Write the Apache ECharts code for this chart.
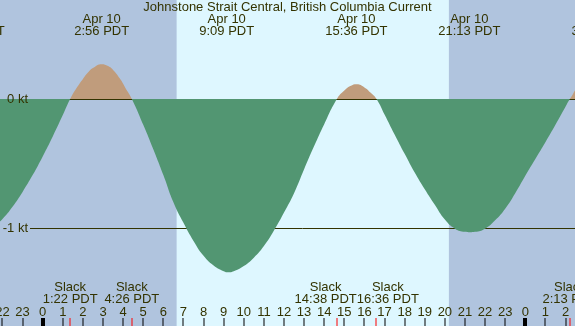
<!DOCTYPE html>
<html>
<head>
    <meta charset="utf-8"/>
    <title>Johnstone Strait Central</title>
    <script src="https://cdn.jsdelivr.net/npm/echarts@6.0.0/dist/echarts.min.js"></script>
    <style>
        html, body { margin: 0; padding: 0; background: #B0C4DE; }
    </style>
</head>
<body>
<div id="main" style="width: 575px;height:326px;"></div>

<script type="text/javascript">
    // current in knots, hours from midnight Apr 10 (PDT)
    var currentHours = [-4.0, -3.5, -3.0, -2.5, -2.0, -1.5, -1.0, -0.5, 0.0, 0.5, 1.0, 1.367,
        1.75, 2.0, 2.25, 2.5, 2.933, 3.25, 3.5, 3.83, 4.1, 4.433,
        5.0, 5.5, 6.0, 6.5, 7.0, 7.5, 8.0, 8.5, 9.0, 9.23, 9.5, 10.0, 10.5, 11.0, 11.5,
        12.0, 12.5, 13.0, 13.5, 14.0, 14.633,
        15.0, 15.3, 15.62, 16.0, 16.3, 16.6,
        17.0, 17.5, 18.0, 18.5, 19.0, 19.5, 20.0, 20.5, 21.0, 21.25, 21.5, 22.0, 22.5, 23.0,
        23.5, 24.0, 24.5, 25.0, 25.5, 26.0, 26.217, 27.0, 27.6];
    var currentKnots = [-1.04, -1.05, -1.04, -1.0, -0.93, -0.835, -0.72, -0.59, -0.445, -0.29, -0.125, 0,
        0.10, 0.155, 0.205, 0.24, 0.27, 0.255, 0.225, 0.16, 0.09, 0,
        -0.20, -0.39, -0.59, -0.80, -0.96, -1.10, -1.215, -1.29, -1.335, -1.344, -1.335, -1.295, -1.23, -1.14, -1.02,
        -0.88, -0.73, -0.545, -0.365, -0.195, 0,
        0.065, 0.10, 0.114, 0.09, 0.05, 0,
        -0.12, -0.275, -0.425, -0.57, -0.70, -0.82, -0.935, -1.005, -1.03, -1.033, -1.03, -1.005, -0.94, -0.85,
        -0.73, -0.595, -0.465, -0.335, -0.20, -0.06, 0, 0.19, 0.25];

    // max flood / max ebb labels along the top
    var peakDays = ['Apr 9', 'Apr 10', 'Apr 10', 'Apr 10', 'Apr 10', 'Apr 11'];
    var peakTimes = ['20:34', '2:56', '9:09', '15:36', '21:13', '3:40'];

    // slack water labels along the bottom
    var slackDays = ['Apr 10', 'Apr 10', 'Apr 10', 'Apr 10', 'Apr 11'];
    var slackTimes = ['1:22', '4:26', '14:38', '16:36', '2:13'];

    var sunrise = 6.66, sunset = 20.2;
    var hourTicks = [];
    for (var t = -2; t <= 26; t++) hourTicks.push(t);
    var knotLevels = [0, -1];

    var xMin = -2.1235, xMax = 26.472;
    var yMin = -1.7597, yMax = 0.7674;

    var ink = '#333300';
    var font = '13px "Liberation Sans", Arial, sans-serif';

    function toHour(day, time) {
        var off = day == 'Apr 9' ? -24 : (day == 'Apr 11' ? 24 : 0);
        var p = time.split(':');
        return off + parseInt(p[0]) + parseInt(p[1]) / 60;
    }

    var measureCtx = document.createElement('canvas').getContext('2d');
    measureCtx.font = font;
    function textWidth(s) { return measureCtx.measureText(s).width; }

    // push overlapping label blocks apart, like the original does
    function spreadLabels(centers, widths) {
        var out = centers.slice();
        for (var pass = 0; pass < 5; pass++) {
            for (var i = 0; i + 1 < out.length; i++) {
                var need = (widths[i] + widths[i + 1]) / 2;
                var gap = out[i + 1] - out[i];
                if (gap < need) {
                    var d = (need - gap) / 2;
                    out[i] -= d;
                    out[i + 1] += d;
                }
            }
        }
        return out;
    }

    var slackHours = slackTimes.map(function (s, i) { return toHour(slackDays[i], s); });
    var slackWidths = slackTimes.map(function (s) { return Math.max(textWidth(s + ' PDT'), textWidth('Slack')); });

    var myChart = echarts.init(document.getElementById('main'));

    var option = {
        backgroundColor: '#B0C4DE',
        animation: false,
        title: {
            text: 'Johnstone Strait Central, British Columbia Current',
            left: 'center',
            top: 0,
            padding: 0,
            textStyle: { color: ink, fontSize: 13, fontWeight: 'normal', fontFamily: '"Liberation Sans", Arial, sans-serif', lineHeight: 15 }
        },
        grid: { left: 0, right: 0, top: 0, bottom: 0 },
        xAxis: { type: 'value', min: xMin, max: xMax, show: false },
        yAxis: { type: 'value', min: yMin, max: yMax, show: false },
        visualMap: {
            show: false,
            type: 'piecewise',
            seriesIndex: 2,
            dimension: 1,
            pieces: [
                { gte: -5, lt: 0, color: '#529672' },
                { gte: 0, lte: 5, color: '#C09C7C' }
            ]
        },
        series: [
            {
                // daylight band
                type: 'custom',
                z: 0,
                data: [[sunrise, sunset]],
                renderItem: function (params, api) {
                    var a = api.coord([api.value(0), yMax]);
                    var b = api.coord([api.value(1), yMin]);
                    return { type: 'rect', shape: { x: a[0], y: a[1], width: b[0] - a[0], height: b[1] - a[1] }, style: { fill: '#DEF7FF' } };
                }
            },
            {
                // knot reference lines, under the fill
                type: 'custom',
                z: 1,
                data: knotLevels.map(function (v) { return [xMin, v]; }),
                renderItem: function (params, api) {
                    var p = api.coord([xMin, api.value(1)]);
                    var e = api.coord([xMax, api.value(1)]);
                    var y = Math.round(p[1]) + 0.5;
                    return { type: 'line', shape: { x1: 30, y1: y, x2: e[0], y2: y }, style: { stroke: ink, lineWidth: 1 } };
                }
            },
            {
                name: 'Current',
                type: 'line',
                z: 2,
                smooth: true,
                showSymbol: false,
                lineStyle: { width: 0 },
                areaStyle: { opacity: 1 },
                data: currentHours.map(function (h, i) { return [h, currentKnots[i]]; })
            },
            {
                // knot labels
                type: 'custom',
                z: 3,
                data: knotLevels.map(function (v) { return [xMin, v]; }),
                renderItem: function (params, api) {
                    var p = api.coord([xMin, api.value(1)]);
                    return { type: 'text', style: { text: api.value(1) + ' kt', x: 28, y: p[1], align: 'right', verticalAlign: 'middle', font: font, fill: ink } };
                }
            },
            {
                // hour ticks and labels
                type: 'custom',
                z: 3,
                data: hourTicks.map(function (h) { return [h, yMin]; }),
                renderItem: function (params, api) {
                    var h = api.value(0);
                    var p = api.coord([h, yMin]);
                    var midnight = ((h % 24) + 24) % 24 == 0;
                    var w = midnight ? 4 : 1;
                    return {
                        type: 'group',
                        children: [
                            { type: 'rect', shape: { x: Math.round(p[0]) - w / 2, y: p[1] - 8, width: w, height: 8 }, style: { fill: '#000' } },
                            { type: 'text', style: { text: String(((h % 24) + 24) % 24), x: p[0], y: p[1] - 14, align: 'center', verticalAlign: 'middle', font: font, fill: ink } }
                        ]
                    };
                }
            },
            {
                // slack ticks and labels
                type: 'custom',
                z: 3,
                data: slackHours.map(function (h) { return [h, yMin]; }),
                renderItem: function (params, api) {
                    var p = api.coord([api.value(0), yMin]);
                    var centers = slackHours.map(function (h) { return api.coord([h, yMin])[0]; });
                    var lx = spreadLabels(centers, slackWidths)[params.dataIndex];
                    var x = Math.round(p[0]);
                    return {
                        type: 'group',
                        children: [
                            { type: 'rect', shape: { x: x - 0.5, y: p[1] - 8, width: 1, height: 8 }, style: { fill: '#FF0000' } },
                            { type: 'text', style: { text: 'Slack', x: lx, y: p[1] - 39, align: 'center', verticalAlign: 'middle', font: font, fill: ink } },
                            { type: 'text', style: { text: slackTimes[params.dataIndex] + ' PDT', x: lx, y: p[1] - 27, align: 'center', verticalAlign: 'middle', font: font, fill: ink } }
                        ]
                    };
                }
            },
            {
                // max current labels
                type: 'custom',
                z: 3,
                data: peakTimes.map(function (s, i) { return [toHour(peakDays[i], s), yMax]; }),
                renderItem: function (params, api) {
                    var p = api.coord([api.value(0), yMax]);
                    return {
                        type: 'group',
                        children: [
                            { type: 'text', style: { text: peakDays[params.dataIndex], x: p[0], y: p[1] + 19, align: 'center', verticalAlign: 'middle', font: font, fill: ink } },
                            { type: 'text', style: { text: peakTimes[params.dataIndex] + ' PDT', x: p[0], y: p[1] + 31, align: 'center', verticalAlign: 'middle', font: font, fill: ink } }
                        ]
                    };
                }
            }
        ]
    };

    myChart.setOption(option);
</script>
</body>
</html>
